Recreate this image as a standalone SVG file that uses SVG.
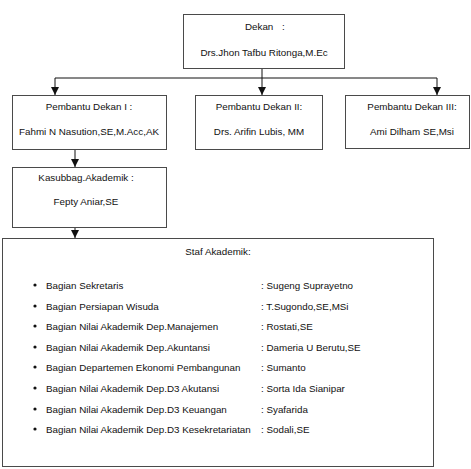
<svg xmlns="http://www.w3.org/2000/svg" width="471" height="469" viewBox="0 0 471 469">
<style>
.box{fill:#fff;stroke:#4a4a4a;stroke-width:1}
text{font-family:"Liberation Sans",Arial,sans-serif;font-size:9.8px;fill:#111}
.c{text-anchor:middle}
.ln{fill:none;stroke:#111;stroke-width:1}
</style>
<defs>
<marker id="ah" viewBox="0 0 8 8" refX="8" refY="4" markerWidth="8" markerHeight="8" markerUnits="userSpaceOnUse" orient="auto">
<path d="M0,0 L8,4 L0,8 Z" fill="#111"/>
</marker>
</defs>
<rect width="471" height="469" fill="#fff"/>
<g id="connectors">
<path class="ln" d="M262,68 V78"/>
<path class="ln" d="M55,78 H437"/>
<path class="ln" d="M55,78 V95" marker-end="url(#ah)"/>
<path class="ln" d="M262,78 V95" marker-end="url(#ah)"/>
<path class="ln" d="M437,78 V95" marker-end="url(#ah)"/>
<path class="ln" d="M75,149 V167" marker-end="url(#ah)"/>
<path class="ln" d="M75,227 V238" marker-end="url(#ah)"/>
</g>
<g id="dekan">
<rect class="box" x="183.5" y="14.5" width="161" height="54"/>
<text x="245" y="30">Dekan</text>
<text x="282" y="30">:</text>
<text class="c" x="264" y="56">Drs.Jhon Tafbu Ritonga,M.Ec</text>
</g>
<g id="pd1">
<rect class="box" x="12.5" y="95.5" width="154" height="54"/>
<text class="c" x="89" y="110">Pembantu Dekan I :</text>
<text class="c" x="89" y="135">Fahmi N Nasution,SE,M.Acc,AK</text>
</g>
<g id="pd2">
<rect class="box" x="195.5" y="95.5" width="127" height="54"/>
<text class="c" x="259" y="110">Pembantu Dekan II:</text>
<text class="c" x="259" y="135">Drs. Arifin Lubis, MM</text>
</g>
<g id="pd3">
<rect class="box" x="345.5" y="95.5" width="124" height="53"/>
<text class="c" x="412" y="110">Pembantu Dekan III:</text>
<text class="c" x="412" y="135">Ami Dilham SE,Msi</text>
</g>
<g id="kasubbag">
<rect class="box" x="12.5" y="167.5" width="154" height="60"/>
<text class="c" x="86" y="181">Kasubbag.Akademik :</text>
<text class="c" x="86" y="205">Fepty Aniar,SE</text>
</g>
<g id="staf">
<rect class="box" x="2.5" y="238.5" width="431" height="228"/>
<text class="c" x="218" y="255">Staf Akademik:</text>
<g fill="#111">
<circle cx="35" cy="285" r="1.6"/>
<circle cx="35" cy="306" r="1.6"/>
<circle cx="35" cy="326" r="1.6"/>
<circle cx="35" cy="347" r="1.6"/>
<circle cx="35" cy="367" r="1.6"/>
<circle cx="35" cy="388" r="1.6"/>
<circle cx="35" cy="409" r="1.6"/>
<circle cx="35" cy="429" r="1.6"/>
</g>
<text x="46" y="288.5">Bagian Sekretaris</text>
<text x="46" y="309.5">Bagian Persiapan Wisuda</text>
<text x="46" y="329.5">Bagian Nilai Akademik Dep.Manajemen</text>
<text x="46" y="350.5">Bagian Nilai Akademik Dep.Akuntansi</text>
<text x="46" y="370.5">Bagian Departemen Ekonomi Pembangunan</text>
<text x="46" y="391.5">Bagian Nilai Akademik Dep.D3 Akutansi</text>
<text x="46" y="412.5">Bagian Nilai Akademik Dep.D3 Keuangan</text>
<text x="46" y="432.5">Bagian Nilai Akademik Dep.D3 Kesekretariatan</text>
<text x="261" y="288.5">: Sugeng Suprayetno</text>
<text x="261" y="309.5">: T.Sugondo,SE,MSi</text>
<text x="261" y="329.5">: Rostati,SE</text>
<text x="261" y="350.5">: Dameria U Berutu,SE</text>
<text x="261" y="370.5">: Sumanto</text>
<text x="261" y="391.5">: Sorta Ida Sianipar</text>
<text x="261" y="412.5">: Syafarida</text>
<text x="261" y="432.5">: Sodali,SE</text>
</g>
</svg>
